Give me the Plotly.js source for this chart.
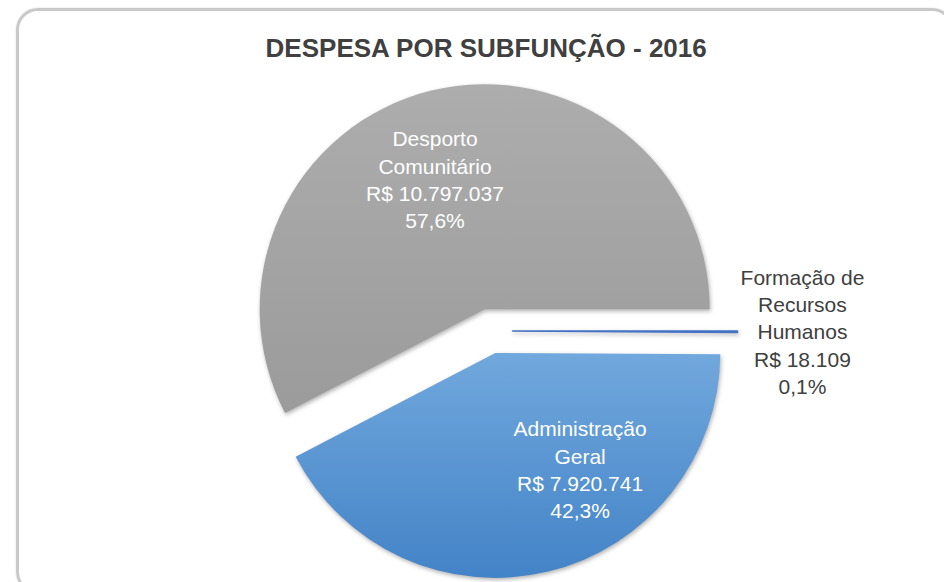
<!DOCTYPE html>
<html>
<head>
<meta charset="utf-8">
<script src="https://cdn.plot.ly/plotly-3.0.1.min.js"></script>
<style>
  html, body { margin: 0; padding: 0; background: #ffffff; }
  #wrap { position: relative; width: 944px; height: 582px; overflow: hidden; }
  #frame {
    position: absolute; left: 16px; top: 8px; width: 938px; height: 586px;
    border: 3px solid #c9c9c9; border-radius: 22px; box-sizing: border-box;
    box-shadow: 0 0 2px rgba(0,0,0,0.15);
  }
  #chart { position: absolute; left: 0; top: 0; width: 944px; height: 582px; }
  #chart .slice path.surface { filter: drop-shadow(1px 2px 2px rgba(0,0,0,0.30)); }
</style>
</head>
<body>
<div id="wrap">
  <div id="frame"></div>
  <div id="chart"></div>
</div>
<script>
// Data
const categories = ['Desporto Comunitário', 'Administração Geral', 'Formação de Recursos Humanos'];
const displayLabels = ['Desporto<br>Comunitário', 'Administração<br>Geral', 'Formação de<br>Recursos<br>Humanos'];
const values = [10797037, 7920741, 18109];
const sliceColors = ['#a3a3a3', '#5b9bd5', '#4472c4'];
const titleText = 'DESPESA POR SUBFUNÇÃO - 2016';

// Styling helpers (not data)
const gradientStops = [['#adadad', '#9b9b9b'], ['#71a8dd', '#4383c7'], null];
const labelNudges = [[-23, -20], [58, 6], [-30, 0]];

const total = values.reduce((a, b) => a + b, 0);
// first slice starts at 3 o'clock and runs counterclockwise
const startRotation = 90 - 360 * values[0] / total;

const trace = {
  type: 'pie',
  labels: categories,
  values: values,
  text: displayLabels,
  texttemplate: '%{text}<br>R$ %{value:,.0f}<br>%{percent:.1%}',
  textinfo: 'text',
  textposition: ['inside', 'inside', 'outside'],
  insidetextorientation: 'horizontal',
  insidetextfont: { family: 'Liberation Sans, Arial, sans-serif', size: 21, color: '#ffffff' },
  outsidetextfont: { family: 'Liberation Sans, Arial, sans-serif', size: 21, color: '#404040' },
  sort: false,
  direction: 'counterclockwise',
  rotation: startRotation,
  pull: [0.1, 0.1, 0.1],
  marker: {
    colors: sliceColors,
    line: { color: ['rgba(0,0,0,0)', 'rgba(0,0,0,0)', '#4472c4'], width: [0, 0, 1.5] }
  },
  domain: { x: [0.2569, 0.7813], y: [0.006, 0.8565] },
  hoverinfo: 'label+value+percent',
  showlegend: false
};

const layout = {
  width: 944,
  height: 582,
  margin: { l: 0, r: 0, t: 0, b: 0 },
  paper_bgcolor: 'rgba(0,0,0,0)',
  plot_bgcolor: 'rgba(0,0,0,0)',
  separators: ',.',
  showlegend: false,
  title: {
    text: titleText,
    font: { family: 'Liberation Sans, Arial, sans-serif', size: 26, color: '#404040', weight: 700 },
    x: 0.515, xanchor: 'center', xref: 'container',
    y: 0.917, yanchor: 'middle', yref: 'container'
  }
};

Plotly.newPlot('chart', [trace], layout, { displayModeBar: false, staticPlot: true }).then(function (gd) {
  const svg = gd.querySelector('.main-svg');
  const NS = 'http://www.w3.org/2000/svg';
  let defs = svg.querySelector('defs');
  if (!defs) { defs = document.createElementNS(NS, 'defs'); svg.insertBefore(defs, svg.firstChild); }
  const slices = gd.querySelectorAll('g.slice');
  slices.forEach(function (sl, i) {
    const stops = gradientStops[i];
    if (stops) {
      const lg = document.createElementNS(NS, 'linearGradient');
      lg.setAttribute('id', 'sliceGrad' + i);
      lg.setAttribute('x1', '0'); lg.setAttribute('y1', '0');
      lg.setAttribute('x2', '0'); lg.setAttribute('y2', '1');
      stops.forEach(function (c, k) {
        const st = document.createElementNS(NS, 'stop');
        st.setAttribute('offset', k === 0 ? '0' : '1');
        st.setAttribute('stop-color', c);
        lg.appendChild(st);
      });
      defs.appendChild(lg);
      const p = sl.querySelector('path.surface');
      if (p) p.style.fill = 'url(#sliceGrad' + i + ')';
    }
    const tg = sl.querySelector('g.slicetext');
    if (tg) {
      const prev = tg.getAttribute('transform') || '';
      tg.setAttribute('transform', 'translate(' + labelNudges[i][0] + ',' + labelNudges[i][1] + ') ' + prev);
    }
  });
});
</script>
</body>
</html>
